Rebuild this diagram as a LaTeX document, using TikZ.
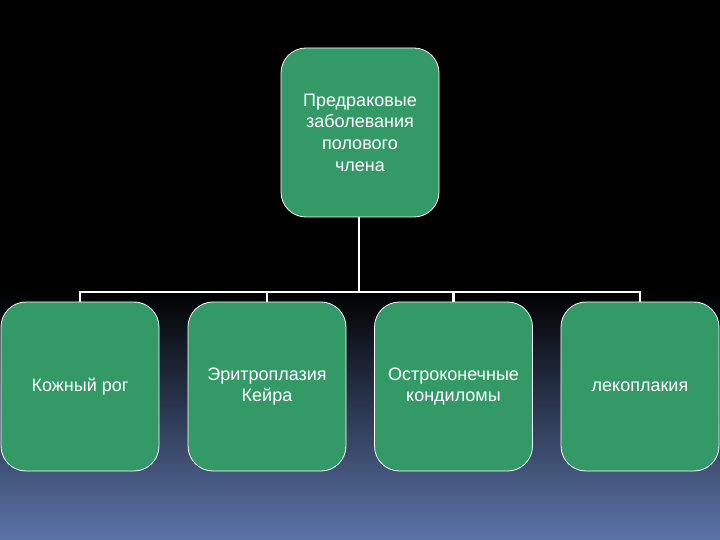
\documentclass[tikz,border=0pt]{standalone}
\usepackage{fontspec}
\setmainfont{Liberation Sans}
\usetikzlibrary{%
  positioning,% wg. " of "
  calc%
}
\definecolor{boxgreen}{RGB}{51,153,102}
\definecolor{slateblue}{RGB}{91,116,168}
\definecolor{midblue}{RGB}{30,39,64}

\begin{document}
\begin{tikzpicture}[
  x=1pt, y=-1pt,
  font=\fontsize{18}{21.7}\selectfont,
  greenbox/.style={draw=white, line width=0.8pt, fill=boxgreen,
    rounded corners=25pt, minimum width=158pt, minimum height=169pt,
    text=white, align=center, inner sep=2pt},
  link/.style={draw=white, line width=2.8pt}
]

% background
\useasboundingbox (0,0) rectangle (720,540);
\fill[black] (0,0) rectangle (720,540);
\shade[top color=black, middle color=midblue, bottom color=slateblue]
  (0,290) rectangle (720,540);

% nodes
\node[greenbox] (root) at (360,132.5) {Предраковые\\ заболевания\\ полового\\ члена};
\node[greenbox] (k1) at (80,386.5) {Кожный рог};
\node[greenbox] (k2) at (267,386.5) {Эритроплазия\\ Кейра};
\node[greenbox] (k3) at (453.5,386.5) {Остроконечные\\ кондиломы};
\node[greenbox] (k4) at (640,386.5) {лекоплакия};

% connectors
\coordinate (bus) at (359,292);
\draw[link] (root.south -| bus) -- (bus);
\foreach \i in {1,...,4} {
  \draw[link] (bus) -| (k\i.north);
}

\end{tikzpicture}
\end{document}
